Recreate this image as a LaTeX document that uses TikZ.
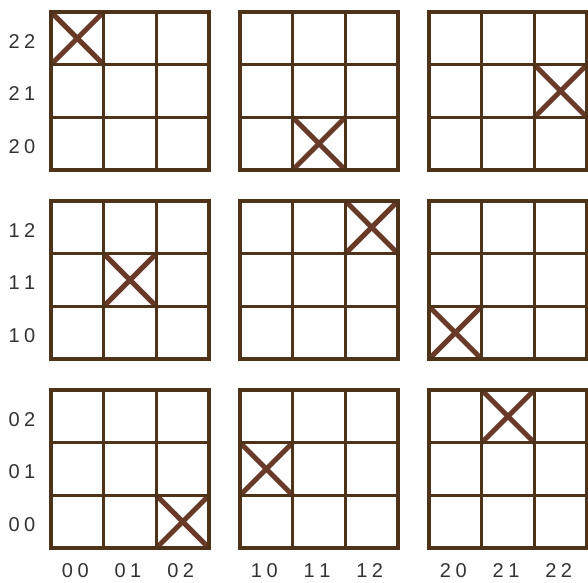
\documentclass[tikz,border=0pt]{standalone}
\usepackage{fontspec}
\setmainfont{Liberation Sans}
\definecolor{gridc}{RGB}{78,50,26}
\definecolor{xc}{RGB}{105,58,40}
\definecolor{labc}{RGB}{50,50,50}
\newcommand{\lblpair}[2]{#1\hspace{4.5pt}#2}
\begin{document}
\begin{tikzpicture}[x=1pt,y=-1pt,
  gridline/.style={draw=gridc,line width=3.3pt,line cap=rect},
  cross/.style={draw=xc,line width=5pt},
  lab/.style={text=labc,font=\fontsize{20}{20}\selectfont,inner sep=0pt}]
\useasboundingbox (0,0) rectangle (588,582);
\pgfmathsetmacro{\s}{158}
\pgfmathsetmacro{\c}{158/3}
\foreach \gx/\gy/\cc/\cr/\nm in {51/12/0/0/a, 240/12/1/2/b, 429/12/2/1/c,
                              51/201/1/1/d, 240/201/2/0/e, 429/201/0/2/f,
                              51/390/2/2/g, 240/390/0/1/h, 429/390/1/0/i}{
  \draw[cross] (\gx+\cc*\c,\gy+\cr*\c) -- ++(\c,\c);
  \draw[cross] (\gx+\cc*\c+\c,\gy+\cr*\c) -- ++(-\c,\c);
  \draw[gridline] (\gx,\gy) rectangle ++(\s,\s);
  \draw[gridline] (\gx+\c,\gy) -- ++(0,\s);
  \draw[gridline] (\gx+2*\c,\gy) -- ++(0,\s);
  \draw[gridline] (\gx,\gy+\c) -- ++(\s,0);
  \draw[gridline] (\gx,\gy+2*\c) -- ++(\s,0);
}
% left labels
\foreach \gy/\d in {12/2, 201/1, 390/0}{
  \foreach \i/\e in {0/2, 1/1, 2/0}{
    \node[lab] (L\d\e) at (22,\gy+\i*\c+0.5*\c+3) {\lblpair{\d}{\e}};
  }
}
% bottom labels
\foreach \gx/\d in {51/0, 240/1, 429/2}{
  \foreach \j in {0,1,2}{
    \node[lab] (B\d\j) at (\gx+\j*\c+0.5*\c-2,571) {\lblpair{\d}{\j}};
  }
}
\end{tikzpicture}
\end{document}
